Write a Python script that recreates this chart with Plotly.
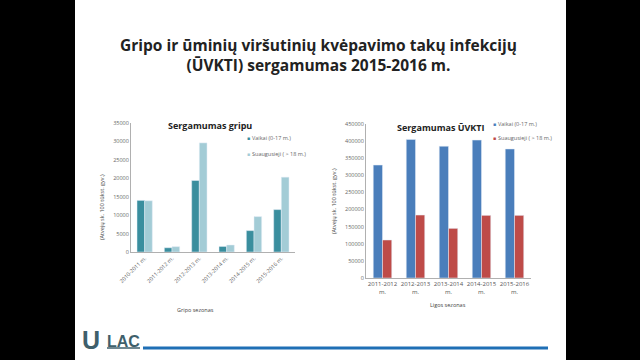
import plotly.graph_objects as go

# Left chart: influenza incidence
flu_seasons = ["2010-2011 m.", "2011-2012 m.", "2012-2013 m.", "2013-2014 m.", "2014-2015 m.", "2015-2016 m."]
flu_children = [14000, 1150, 19400, 1500, 5800, 11500]
flu_adults = [13900, 1450, 29600, 1900, 9600, 20300]

# Right chart: URTI incidence
urti_seasons = ["2011-2012<br>m.", "2012-2013<br>m.", "2013-2014<br>m.", "2014-2015<br>m.", "2015-2016<br>m."]
urti_children = [330000, 405000, 385000, 403000, 377000]
urti_adults = [111000, 184000, 145000, 183000, 183000]

label_children = "Vaikai (0-17 m.)"
label_adults = "Suaugusieji ( > 18 m.)"

c_flu_children, c_flu_adults = "#3a8e9e", "#a3ccd6"
c_urti_children, c_urti_adults = "#4a7ebb", "#be4b48"

W, H = 640, 360
def px(x): return x / W
def py(y): return 1 - y / H

fig = go.Figure()
fig.add_trace(go.Bar(x=flu_seasons, y=flu_children, name=label_children, marker_color=c_flu_children,
                     xaxis="x", yaxis="y", showlegend=False))
fig.add_trace(go.Bar(x=flu_seasons, y=flu_adults, name=label_adults, marker_color=c_flu_adults,
                     xaxis="x", yaxis="y", showlegend=False))
fig.add_trace(go.Bar(x=urti_seasons, y=urti_children, name=label_children, marker_color=c_urti_children,
                     xaxis="x2", yaxis="y2", showlegend=False))
fig.add_trace(go.Bar(x=urti_seasons, y=urti_adults, name=label_adults, marker_color=c_urti_adults,
                     xaxis="x2", yaxis="y2", showlegend=False))

tickfont = dict(family="Open Sans", size=5.5, color="#666666")

def note(text, x, y, size, color="#444444", family="Open Sans", xanchor="center", textangle=0):
    return dict(text=text, x=px(x), y=py(y), xref="paper", yref="paper", showarrow=False,
                xanchor=xanchor, yanchor="middle", textangle=textangle, align="center",
                font=dict(family=family, size=size, color=color))

def legend_item(x, y, color, text):
    return [
        note("■", x, y, 5, color=color, xanchor="left"),
        note(text, x + 5, y, 5.5, color="#666666", xanchor="left"),
    ]

annotations = [
    note("<b>Gripo ir ūminių viršutinių kvėpavimo takų infekcijų<br>(ŪVKTI) sergamumas 2015-2016 m.</b>",
         318, 55, 15.5, color="#222222"),
    note("<b>Sergamumas gripu</b>", 210, 126, 9, color="#222222"),
    note("<b>Sergamumas ŪVKTI</b>", 441, 127, 9, color="#222222"),
    note("Gripo sezonas", 195, 310, 5.5),
    note("Ligos sezonas", 448, 305, 5.5),
    note("(Atvejų sk. 100 tūkst. gyv.)", 102, 207, 5.5, textangle=-90),
    note("(Atvejų sk. 100 tūkst. gyv.)", 334, 201, 5.5, textangle=-90),
    note("<b>U</b>", 91, 340, 25, color="#3f5f6b", family="Liberation Sans"),
    note("<b>LAC</b>", 123, 341, 16, color="#3f5f6b", family="Liberation Sans"),
]
annotations += legend_item(245, 138, c_flu_children, label_children)
annotations += legend_item(245, 154, c_flu_adults, label_adults)
annotations += legend_item(491, 124, c_urti_children, label_children)
annotations += legend_item(491, 138, c_urti_adults, label_adults)

fig.update_layout(
    width=W, height=H,
    margin=dict(l=0, r=0, t=0, b=0),
    paper_bgcolor="#000000",
    plot_bgcolor="rgba(0,0,0,0)",
    barmode="group", bargap=0.44, bargroupgap=0,
    font=dict(family="Open Sans", color="#333333"),
    xaxis=dict(domain=[px(131), px(295)], anchor="y", tickangle=-45, tickfont=tickfont, automargin=False,
               showline=True, linecolor="#b0b0b0", linewidth=1, ticks="", showgrid=False),
    yaxis=dict(domain=[py(252), py(123)], anchor="x", range=[0, 35000], dtick=5000, tickformat="d",
               tickfont=tickfont, showline=True, linecolor="#b0b0b0", linewidth=1, showgrid=False,
               zeroline=False, ticks="", automargin=False),
    xaxis2=dict(domain=[px(366), px(531)], anchor="y2", tickangle=0, automargin=False,
                tickfont=dict(family="Open Sans", size=6, color="#555555"),
                showline=True, linecolor="#b0b0b0", linewidth=1, ticks="", showgrid=False),
    yaxis2=dict(domain=[py(278), py(124)], anchor="x2", range=[0, 450000], dtick=50000, tickformat="d",
                tickfont=tickfont, showline=True, linecolor="#b0b0b0", linewidth=1, showgrid=False,
                zeroline=False, ticks="", automargin=False),
    shapes=[
        dict(type="rect", xref="paper", yref="paper", x0=px(75), x1=px(566), y0=0, y1=1,
             fillcolor="white", line_width=0, layer="below"),
        dict(type="line", xref="paper", yref="paper", x0=px(143), x1=px(548), y0=py(348), y1=py(348),
             line=dict(color="#1f6fb5", width=3)),
        dict(type="line", xref="paper", yref="paper", x0=px(107), x1=px(140), y0=py(348), y1=py(348),
             line=dict(color="#3f5f6b", width=1.5)),
    ],
    annotations=annotations,
)

fig.write_html("out.html", config={"displayModeBar": False},
               post_script="document.body.style.margin='0';document.body.style.background='#000';document.body.style.overflow='hidden';")
